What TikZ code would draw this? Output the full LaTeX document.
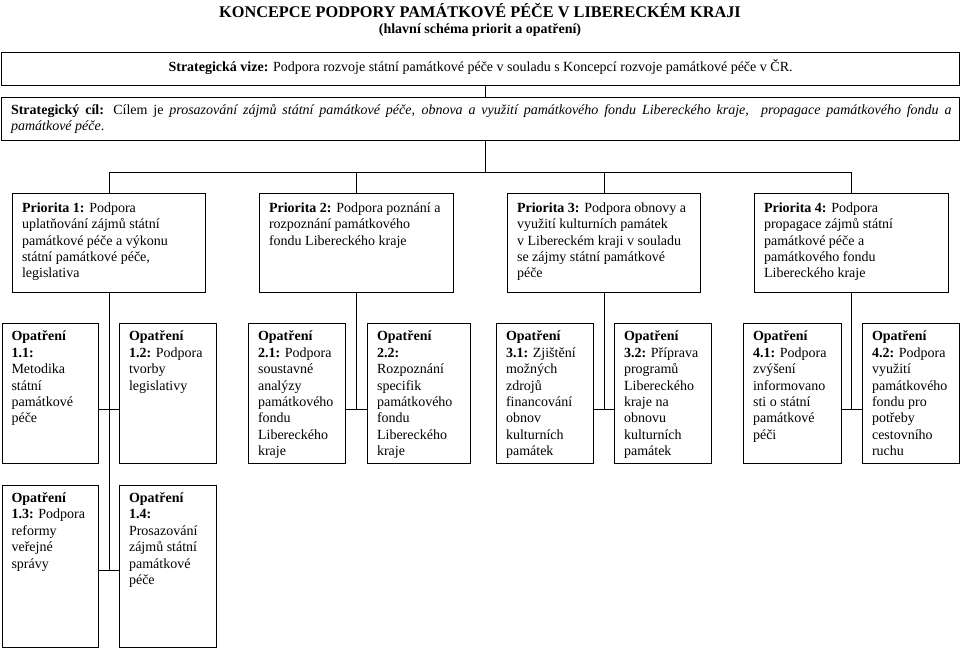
\documentclass[tikz,border=0pt]{standalone}
\usepackage{fontspec}
\setmainfont{Liberation Serif}
\hbadness=10000 \hfuzz=100pt
\newcommand\bodyfont{\fontsize{14}{16.4}\selectfont}
\tikzset{
  box/.style={draw=black, line width=1.1pt, inner sep=0pt, anchor=north west},
  conn/.style={draw=black, line width=0.9pt},
}
% name, x1, y1, x2, y2, top pad, alignment, text
\newcommand\boxnode[8]{%
  \node[box] (#1) at (#2,#3) {\parbox[t][\dimexpr#5pt-#3pt\relax][t]{\dimexpr#4pt-#2pt\relax}{%
    \bodyfont\vspace*{#6pt}#7#8\par}};%
}
\newcommand\lft{\raggedright\leftskip=9.5pt\relax}
\newcommand\jst{\leftskip=9.5pt\rightskip=8pt\parindent=0pt\relax}
\newcommand\ctr{\centering}
\begin{document}
\begin{tikzpicture}[x=1pt,y=-1pt]
\useasboundingbox (0,0) rectangle (960,648);
\node[anchor=base] (title) at (480,17.5) {\fontsize{16.3}{19}\selectfont\bfseries KONCEPCE PODPORY PAMÁTKOVÉ PÉČE V LIBERECKÉM KRAJI};
\node[anchor=base] (subtitle) at (480,33) {\fontsize{14}{16}\selectfont\bfseries (hlavní schéma priorit a opatření)};

\boxnode{vize}{1}{52}{959}{85}{7}{\ctr}{\textbf{Strategická vize:} Podpora rozvoje státní památkové péče v souladu s Koncepcí rozvoje památkové péče v ČR.}
\boxnode{cil}{1}{97}{959}{140}{6.5}{\jst}{\textbf{Strategický cíl:} Cílem je \textit{prosazování zájmů státní památkové péče, obnova a využití památkového fondu Libereckého kraje, \ propagace památkového fondu a}\linebreak\textit{památkové péče}.}

\boxnode{p1}{12}{193}{205}{292}{9}{\lft}{\textbf{Priorita 1:} Podpora\\uplatňování zájmů státní\\památkové péče a výkonu\\státní památkové péče,\\legislativa}
\boxnode{p2}{259}{193}{453}{292}{9}{\lft}{\textbf{Priorita 2:} Podpora poznání a\\rozpoznání památkového\\fondu Libereckého kraje}
\boxnode{p3}{507}{193}{700}{292}{9}{\lft}{\textbf{Priorita 3:} Podpora obnovy a\\využití kulturních památek\\v~Libereckém kraji v souladu\\se zájmy státní památkové\\péče}
\boxnode{p4}{754}{193}{948}{292}{9}{\lft}{\textbf{Priorita 4:} Podpora\\propagace zájmů státní\\památkové péče a\\památkového fondu\\Libereckého kraje}

\boxnode{o11}{1.5}{323}{98}{463}{7.5}{\lft}{\textbf{Opatření}\\\textbf{1.1:}\\Metodika\\státní\\památkové\\péče}
\boxnode{o12}{119}{323}{216}{463}{7.5}{\lft}{\textbf{Opatření}\\\textbf{1.2:} Podpora\\tvorby\\legislativy}
\boxnode{o21}{248}{323}{345}{463}{7.5}{\lft}{\textbf{Opatření}\\\textbf{2.1:} Podpora\\soustavné\\analýzy\\památkového\\fondu\\Libereckého\\kraje}
\boxnode{o22}{367}{323}{470}{463}{7.5}{\lft}{\textbf{Opatření}\\\textbf{2.2:}\\Rozpoznání\\specifik\\památkového\\fondu\\Libereckého\\kraje}
\boxnode{o31}{496}{323}{593}{463}{7.5}{\lft}{\textbf{Opatření}\\\textbf{3.1:} Zjištění\\možných\\zdrojů\\financování\\obnov\\kulturních\\památek}
\boxnode{o32}{614}{323}{711}{463}{7.5}{\lft}{\textbf{Opatření}\\\textbf{3.2:} Příprava\\programů\\Libereckého\\kraje na\\obnovu\\kulturních\\památek}
\boxnode{o41}{743}{323}{841}{463}{7.5}{\lft}{\textbf{Opatření}\\\textbf{4.1:} Podpora\\zvýšení\\informovano\\sti o státní\\památkové\\péči}
\boxnode{o42}{862}{323}{958.5}{463}{7.5}{\lft}{\textbf{Opatření}\\\textbf{4.2:} Podpora\\využití\\památkového\\fondu pro\\potřeby\\cestovního\\ruchu}

\boxnode{o13}{1.5}{485}{98}{646.5}{7}{\lft}{\textbf{Opatření}\\\textbf{1.3:} Podpora\\reformy\\veřejné\\správy}
\boxnode{o14}{119}{485}{216}{646.5}{7}{\lft}{\textbf{Opatření}\\\textbf{1.4:}\\Prosazování\\zájmů státní\\památkové\\péče}

% connectors
\coordinate (cx) at (485,0);
\coordinate (bus) at (0,172);
\coordinate (j1) at (0,409);
\coordinate (j2) at (0,570);
\draw[conn] (vize.south -| cx) -- (cil.north -| cx);
\draw[conn] (cil.south -| cx) -- (bus -| cx);
\draw[conn] (p1.north) -- (p1.north |- bus) -- (p4.north |- bus) -- (p4.north);
\draw[conn] (p2.north) -- (p2.north |- bus);
\draw[conn] (p3.north) -- (p3.north |- bus);
\draw[conn] (p1.south) -- (p1.south |- j2);
\draw[conn] (o11.east |- j1) -- (o12.west |- j1);
\draw[conn] (o13.east |- j2) -- (o14.west |- j2);
\draw[conn] (p2.south) -- (p2.south |- j1);
\draw[conn] (o21.east |- j1) -- (o22.west |- j1);
\draw[conn] (p3.south) -- (p3.south |- j1);
\draw[conn] (o31.east |- j1) -- (o32.west |- j1);
\draw[conn] (p4.south) -- (p4.south |- j1);
\draw[conn] (o41.east |- j1) -- (o42.west |- j1);
\end{tikzpicture}
\end{document}
